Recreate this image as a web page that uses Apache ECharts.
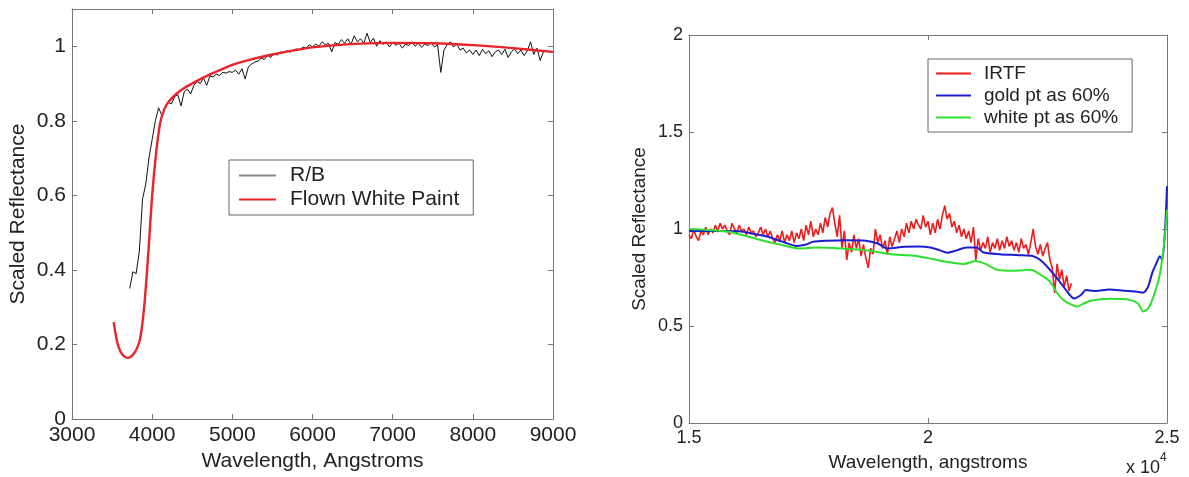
<!DOCTYPE html>
<html>
<head>
<meta charset="utf-8">
<script src="https://cdn.jsdelivr.net/npm/echarts@6/dist/echarts.min.js"></script>
<style>
html,body{margin:0;padding:0;background:#fff;}
#chart{width:1189px;height:477px;}
</style>
</head>
<body>
<div id="chart"></div>
<script>
// ---------- Left panel data ----------
// R/B spectrum sampled every rbStep Angstroms starting at rbStart
const rbStart = 3720, rbStep = 40;
const rbValues = [
  0.35,0.395,0.39,0.45,0.59,0.63,0.70,0.75,0.80,0.835,
  0.815,0.835,0.85,0.845,0.865,0.87,0.84,0.878,0.885,0.872,
  0.895,0.905,0.9,0.915,0.895,0.92,0.918,0.925,0.922,0.93,
  0.928,0.932,0.93,0.936,0.925,0.94,0.912,0.945,0.952,0.958,
  0.96,0.968,0.965,0.975,0.97,0.98,0.976,0.985,0.982,0.988,
  0.984,0.99,0.993,0.99,0.998,0.995,1.004,0.998,1.006,1.0,
  1.012,1.004,1.008,0.985,1.01,1.005,1.018,1.008,1.02,1.005,
  1.028,1.012,1.02,1.008,1.035,1.01,1.022,1.0,1.015,1.005,
  1.012,0.998,1.01,1.003,1.008,0.995,1.006,1.002,1.012,1.0,
  1.008,0.997,1.006,1.002,1.01,0.998,1.004,0.93,0.99,1.004,
  1.012,0.998,1.006,0.99,0.995,0.982,0.99,0.978,0.99,0.975,
  0.992,0.98,0.988,0.972,0.985,0.99,0.978,0.992,0.97,0.985,
  0.993,0.98,0.99,0.975,0.988,1.012,0.978,0.995,0.962,0.985
];
const paintWave = [3520,3560,3600,3650,3700,3750,3800,3850,3900,3950,4000,4050,4100,4150,4200,4300,4400,4500,4600,4800,5000,5200,5500,5800,6000,6300,6600,7000,7500,8000,8500,9000];
const paintValue = [0.26,0.21,0.183,0.168,0.164,0.17,0.185,0.215,0.3,0.44,0.6,0.715,0.795,0.83,0.85,0.872,0.888,0.9,0.912,0.932,0.95,0.963,0.978,0.99,0.997,1.003,1.007,1.009,1.008,1.003,0.995,0.985];

// ---------- Right panel data ----------
const irtfStart = 15000, irtfStep = 50;
const irtfValues = [
  0.97,0.95,1.0,0.96,0.94,0.99,0.97,1.01,0.97,1.0,
  0.98,1.02,0.99,1.03,1.0,1.02,0.99,0.97,1.03,1.0,
  0.98,1.02,0.99,1.0,0.97,1.01,0.98,0.99,0.96,0.98,
  1.01,0.97,1.0,0.96,0.99,0.95,0.93,0.97,0.94,0.99,
  0.93,0.97,0.94,0.99,0.93,0.98,0.95,1.0,0.94,1.02,
  0.97,1.04,0.96,1.0,0.97,1.03,0.98,1.06,1.01,1.08,
  1.11,1.03,0.96,1.07,0.9,0.99,0.84,0.93,0.88,0.97,
  0.9,0.95,0.86,0.92,0.85,0.8,0.9,0.87,1.0,0.93,
  0.97,0.9,0.94,0.87,0.96,0.91,0.95,0.99,0.93,1.0,
  0.96,1.03,0.98,1.04,1.0,1.05,1.02,1.0,1.07,1.01,
  1.04,0.97,1.03,0.98,1.05,1.0,1.07,1.12,1.05,1.08,
  1.01,1.04,0.98,1.02,0.96,1.0,0.95,0.99,0.93,1.01,
  0.84,0.95,0.89,0.93,0.9,0.96,0.88,0.93,0.9,0.95,
  0.89,0.94,0.9,0.96,0.91,0.94,0.89,0.93,0.88,0.95,
  0.9,0.92,0.87,0.93,1.0,0.91,0.87,0.92,0.86,0.9,
  0.93,0.84,0.8,0.67,0.82,0.74,0.79,0.7,0.76,0.68,
  0.72
];
const goldWave = [15000,15500,16050,16350,16650,16950,17250,17450,17600,17900,18300,18700,18950,19150,19500,19800,20050,20250,20400,20600,20800,21020,21150,21500,21900,22200,22350,22550,22750,22950,23050,23200,23300,23500,23800,24100,24350,24500,24600,24700,24790,24850,24900,24960,25000];
const goldValue = [0.99,0.99,0.988,0.975,0.96,0.935,0.913,0.92,0.935,0.94,0.942,0.94,0.925,0.9,0.908,0.91,0.905,0.89,0.878,0.89,0.905,0.905,0.88,0.87,0.865,0.86,0.84,0.79,0.73,0.665,0.642,0.66,0.685,0.68,0.688,0.682,0.678,0.672,0.7,0.78,0.83,0.86,0.84,1.0,1.22];
const whiteWave = [15000,15400,15850,16100,16400,16700,16900,17300,17700,18200,18600,18850,19100,19300,19700,20100,20400,20750,21000,21200,21450,21800,22150,22350,22550,22700,22850,23000,23120,23250,23400,23800,24200,24400,24500,24600,24700,24850,24950,25000];
const whiteValue = [1.0,0.995,0.985,0.97,0.95,0.93,0.92,0.9,0.905,0.9,0.893,0.885,0.875,0.868,0.862,0.845,0.83,0.82,0.835,0.82,0.79,0.785,0.79,0.765,0.73,0.67,0.63,0.61,0.6,0.615,0.63,0.64,0.636,0.615,0.575,0.59,0.64,0.765,0.95,1.1];

// ---------- build ----------
const FONT = "'Liberation Sans', Arial, Helvetica, sans-serif";
const TXT = '#222';
const AX = '#777';
function gridPairs(start, step, vals){ return vals.map((v,i)=>[start+i*step, v]); }
function zipPairs(xs, ys){ return xs.map((x,i)=>[x, ys[i]]); }

function mainX(grid, min, max, interval, fs, name, gap, fmt){
  return {type:'value', gridIndex:grid, min:min, max:max, interval:interval, position:'bottom',
    name:name, nameLocation:'middle', nameGap:gap,
    nameTextStyle:{fontSize:fs.title, color:TXT, fontFamily:FONT},
    axisLine:{show:true, onZero:false, lineStyle:{color:AX, width:1}},
    axisTick:{show:true, inside:true, length:5, lineStyle:{color:AX}},
    axisLabel:{show:true, fontSize:fs.tick, color:TXT, fontFamily:FONT, margin:6, formatter:fmt},
    splitLine:{show:false}};
}
function mirrorX(grid, min, max, interval){
  return {type:'value', gridIndex:grid, min:min, max:max, interval:interval, position:'top',
    axisLine:{show:true, onZero:false, lineStyle:{color:AX, width:1}},
    axisTick:{show:true, inside:true, length:5, lineStyle:{color:AX}},
    axisLabel:{show:false}, splitLine:{show:false}};
}
function mainY(grid, min, max, interval, fs, name, gap){
  return {type:'value', gridIndex:grid, min:min, max:max, interval:interval, position:'left',
    name:name, nameLocation:'middle', nameGap:gap,
    nameTextStyle:{fontSize:fs.title, color:TXT, fontFamily:FONT},
    axisLine:{show:true, onZero:false, lineStyle:{color:AX, width:1}},
    axisTick:{show:true, inside:true, length:5, lineStyle:{color:AX}},
    axisLabel:{show:true, fontSize:fs.tick, color:TXT, fontFamily:FONT, margin:6, showMaxLabel: (max % interval === 0) ? true : false},
    splitLine:{show:false}};
}
function mirrorY(grid, min, max, interval){
  return {type:'value', gridIndex:grid, min:min, max:max, interval:interval, position:'right',
    axisLine:{show:true, onZero:false, lineStyle:{color:AX, width:1}},
    axisTick:{show:true, inside:true, length:5, lineStyle:{color:AX}},
    axisLabel:{show:false}, splitLine:{show:false}};
}

const fsL = {tick:21, title:21};
const fsR = {tick:18, title:19};

const option = {
  animation:false,
  backgroundColor:'#fff',
  textStyle:{fontFamily:FONT},
  grid:[
    {left:72, top:9, width:481, height:410},
    {left:689, top:35, width:478, height:388}
  ],
  xAxis:[
    mainX(0, 3000, 9000, 1000, fsL, 'Wavelength, Angstroms', 31, v => String(v)),
    mirrorX(0, 3000, 9000, 1000),
    mainX(1, 15000, 25000, 5000, fsR, 'Wavelength, angstroms', 30, v => String(v/10000)),
    mirrorX(1, 15000, 25000, 5000)
  ],
  yAxis:[
    mainY(0, 0, 1.1, 0.2, fsL, 'Scaled Reflectance', 43),
    mirrorY(0, 0, 1.1, 0.2),
    mainY(1, 0, 2, 0.5, fsR, 'Scaled Reflectance', 40),
    mirrorY(1, 0, 2, 0.5)
  ],
  legend:[
    {orient:'vertical', left:229, top:160, icon:'rect', itemWidth:37, itemHeight:2, itemGap:3,
     padding:[5,14,5,10], borderColor:'#666', borderWidth:1, backgroundColor:'#fff', selectedMode:false,
     textStyle:{fontSize:21, color:TXT, fontFamily:FONT, padding:[0,0,0,9]},
     data:[{name:'R/B', itemStyle:{color:'#8a8a8a'}}, {name:'Flown White Paint'}]},
    {orient:'vertical', left:928, top:59, icon:'rect', itemWidth:35, itemHeight:2, itemGap:3,
     padding:[5,14,5,8], borderColor:'#666', borderWidth:1, backgroundColor:'#fff', selectedMode:false,
     textStyle:{fontSize:19, color:TXT, fontFamily:FONT, padding:[0,0,0,8]},
     data:['IRTF','gold pt as 60%','white pt as 60%']}
  ],
  graphic:[
    {type:'text', left:1126, top:459, style:{text:'x 10', fontSize:18, fontFamily:FONT, fill:TXT}},
    {type:'text', left:1160, top:452, style:{text:'4', fontSize:12, fontFamily:FONT, fill:TXT}}
  ],
  series:[
    {name:'R/B', type:'line', xAxisIndex:0, yAxisIndex:0, showSymbol:false, symbol:'none',
     lineStyle:{color:'#111', width:1}, itemStyle:{color:'#111'},
     data:gridPairs(rbStart, rbStep, rbValues)},
    {name:'Flown White Paint', type:'line', xAxisIndex:0, yAxisIndex:0, showSymbol:false, symbol:'none', smooth:0.3,
     lineStyle:{color:'#e8242a', width:2.4}, itemStyle:{color:'#e8242a'},
     data:zipPairs(paintWave, paintValue)},
    {name:'IRTF', type:'line', xAxisIndex:2, yAxisIndex:2, showSymbol:false, symbol:'none',
     lineStyle:{color:'#ee1c1c', width:1.6}, itemStyle:{color:'#ee1c1c'},
     data:gridPairs(irtfStart, irtfStep, irtfValues)},
    {name:'gold pt as 60%', type:'line', xAxisIndex:2, yAxisIndex:2, showSymbol:false, symbol:'none', smooth:0.25,
     lineStyle:{color:'#1c1cd0', width:2}, itemStyle:{color:'#1c1cd0'},
     data:zipPairs(goldWave, goldValue)},
    {name:'white pt as 60%', type:'line', xAxisIndex:2, yAxisIndex:2, showSymbol:false, symbol:'none', smooth:0.25,
     lineStyle:{color:'#2ee02e', width:2}, itemStyle:{color:'#2ee02e'},
     data:zipPairs(whiteWave, whiteValue)}
  ]
};
const chart = echarts.init(document.getElementById('chart'), null, {renderer:'canvas'});
chart.setOption(option);
</script>
</body>
</html>
